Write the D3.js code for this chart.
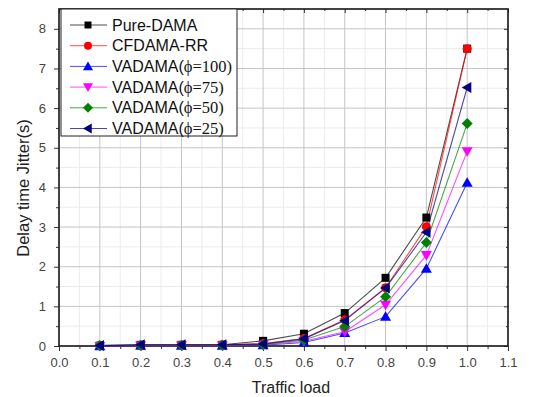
<!DOCTYPE html>
<html>
<head>
<meta charset="utf-8">
<script src="https://cdn.jsdelivr.net/npm/d3@7"></script>
<style>
  body { margin: 0; background: #fff; }
  svg { display: block; font-family: "Liberation Sans", Arial, sans-serif; }
</style>
</head>
<body>
<svg width="536" height="397"></svg>
<script>
const loads = [0.1, 0.2, 0.3, 0.4, 0.5, 0.6, 0.7, 0.8, 0.9, 1.0];
const pureDama = [0.01, 0.03, 0.03, 0.03, 0.13, 0.31, 0.83, 1.72, 3.24, 7.5];
const cfdamaRR = [0.01, 0.02, 0.02, 0.03, 0.06, 0.19, 0.66, 1.47, 3.01, 7.5];
const vadama100 = [0.0, 0.01, 0.01, 0.01, 0.02, 0.09, 0.33, 0.74, 1.95, 4.12];
const vadama75 = [0.0, 0.01, 0.01, 0.01, 0.03, 0.12, 0.36, 1.04, 2.29, 4.91];
const vadama50 = [0.01, 0.02, 0.02, 0.02, 0.04, 0.15, 0.49, 1.24, 2.61, 5.61];
const vadama25 = [0.01, 0.03, 0.03, 0.03, 0.05, 0.18, 0.64, 1.46, 2.87, 6.52];
const xTicks = d3.range(0, 1.1001, 0.1);
const yTicks = d3.range(0, 9, 1);

const series = [
  { name: "Pure-DAMA", values: pureDama, color: "#000000", shape: "square" },
  { name: "CFDAMA-RR", values: cfdamaRR, color: "#ff0000", shape: "circle" },
  { name: "VADAMA(", sub: "\u03d5=100)", values: vadama100, color: "#0000ff", shape: "up" },
  { name: "VADAMA(", sub: "\u03d5=75)", values: vadama75, color: "#ff00ff", shape: "down" },
  { name: "VADAMA(", sub: "\u03d5=50)", values: vadama50, color: "#008000", shape: "diamond" },
  { name: "VADAMA(", sub: "\u03d5=25)", values: vadama25, color: "#000080", shape: "left" }
];

const svg = d3.select("svg");
const pLeft = 59, pRight = 508, pTop = 9, pBottom = 346;

const x = d3.scaleLinear().domain([0, 1.1]).range([pLeft, pRight]);
const y = d3.scaleLinear().domain([0, 8.5]).range([pBottom, pTop]);

// grid
const grid = svg.append("g");
const minorX = d3.range(0.05, 1.1, 0.1);
const minorY = d3.range(0.5, 8.5, 1);
grid.selectAll(".mx").data(minorX).enter().append("line")
  .attr("x1", d => x(d)).attr("x2", d => x(d)).attr("y1", pTop).attr("y2", pBottom)
  .attr("stroke", "#ececec").attr("stroke-width", 1);
grid.selectAll(".my").data(minorY).enter().append("line")
  .attr("x1", pLeft).attr("x2", pRight).attr("y1", d => y(d)).attr("y2", d => y(d))
  .attr("stroke", "#ececec").attr("stroke-width", 1);
grid.selectAll(".gx").data(xTicks.slice(1, -1)).enter().append("line")
  .attr("x1", d => x(d)).attr("x2", d => x(d)).attr("y1", pTop).attr("y2", pBottom)
  .attr("stroke", "#c4c4c4").attr("stroke-width", 1);
grid.selectAll(".gy").data(yTicks.slice(1)).enter().append("line")
  .attr("x1", pLeft).attr("x2", pRight).attr("y1", d => y(d)).attr("y2", d => y(d))
  .attr("stroke", "#c4c4c4").attr("stroke-width", 1);

// axes
const axisColor = "#333";
svg.append("g").attr("transform", `translate(0,${pBottom})`)
  .call(d3.axisBottom(x).tickValues(xTicks).tickFormat(d3.format(".1f")).tickSize(5).tickPadding(7));
svg.append("g").attr("transform", `translate(${pLeft},0)`)
  .call(d3.axisLeft(y).tickValues(yTicks).tickFormat(d3.format("d")).tickSize(5).tickPadding(8));
svg.append("g").attr("transform", `translate(0,${pTop})`)
  .call(d3.axisBottom(x).tickValues(xTicks).tickFormat("").tickSize(4));
svg.append("g").attr("transform", `translate(${pRight},0)`)
  .call(d3.axisLeft(y).tickValues(yTicks).tickFormat("").tickSize(4));
// minor ticks
svg.append("g").attr("transform", `translate(0,${pBottom})`)
  .call(d3.axisBottom(x).tickValues(minorX).tickFormat("").tickSize(3));
svg.append("g").attr("transform", `translate(${pLeft},0)`)
  .call(d3.axisLeft(y).tickValues(minorY).tickFormat("").tickSize(3));
svg.append("g").attr("transform", `translate(0,${pTop})`)
  .call(d3.axisBottom(x).tickValues(minorX).tickFormat("").tickSize(2));
svg.append("g").attr("transform", `translate(${pRight},0)`)
  .call(d3.axisLeft(y).tickValues(minorY).tickFormat("").tickSize(2));

svg.selectAll(".domain").remove();
svg.selectAll(".tick line").attr("stroke", axisColor);
svg.selectAll(".tick text").attr("fill", "#444").style("font-size", "13px")
  .style("font-family", "'Liberation Sans', Arial, sans-serif");

svg.append("rect").attr("x", pLeft).attr("y", pTop)
  .attr("width", pRight - pLeft).attr("height", pBottom - pTop)
  .attr("fill", "none").attr("stroke", "#222").attr("stroke-width", 1.7);

// markers
function marker(g, shape, color, s) {
  if (shape === "square") {
    g.append("rect").attr("x", -s).attr("y", -s).attr("width", 2 * s).attr("height", 2 * s).attr("fill", color);
  } else if (shape === "circle") {
    g.append("circle").attr("r", s + 0.5).attr("fill", color);
  } else {
    const k = s + 1.5;
    const pts = {
      up: [[0, -k], [k, k * 0.75], [-k, k * 0.75]],
      down: [[0, k], [k, -k * 0.75], [-k, -k * 0.75]],
      left: [[-k, 0], [k * 0.75, -k], [k * 0.75, k]],
      diamond: [[0, -k], [k, 0], [0, k], [-k, 0]]
    }[shape];
    g.append("polygon").attr("points", pts.map(p => p.join(",")).join(" ")).attr("fill", color);
  }
}

const line = d3.line().x((d, i) => x(loads[i])).y(d => y(d));
series.forEach(s => {
  svg.append("path").attr("d", line(s.values)).attr("fill", "none")
    .attr("stroke", s.color).attr("stroke-width", 1.1).attr("opacity", 0.7);
});
series.forEach(s => {
  s.values.forEach((v, i) => {
    const g = svg.append("g").attr("transform", `translate(${x(loads[i])},${y(v)})`);
    marker(g, s.shape, s.color, 4);
  });
});

// legend
const lg = svg.append("g");
lg.append("rect").attr("x", 61).attr("y", 9).attr("width", 176).attr("height", 127)
  .attr("fill", "#fff").attr("stroke", "#222").attr("stroke-width", 1);
series.forEach((s, i) => {
  const ly = 25 + i * 20.7;
  lg.append("line").attr("x1", 70).attr("x2", 107).attr("y1", ly).attr("y2", ly)
    .attr("stroke", s.color).attr("stroke-width", 1).attr("opacity", 0.7);
  marker(lg.append("g").attr("transform", `translate(88,${ly})`), s.shape, s.color, 3.5);
  const t = lg.append("text").attr("x", 112).attr("y", ly + 5.5)
    .style("font-size", "16px").attr("fill", "#111").text(s.name);
  if (s.sub) t.append("tspan").style("font-family", "'Liberation Serif', 'Times New Roman', serif")
    .style("font-size", "16.5px").text(s.sub);
});

// axis titles
svg.append("text").attr("x", 291).attr("y", 393).attr("text-anchor", "middle")
  .style("font-size", "16px").attr("fill", "#222").text("Traffic load");
svg.append("text").attr("transform", "translate(29,188) rotate(-90)").attr("text-anchor", "middle")
  .style("font-size", "16.5px").attr("fill", "#222").text("Delay time Jitter(s)");
</script>
</body>
</html>
